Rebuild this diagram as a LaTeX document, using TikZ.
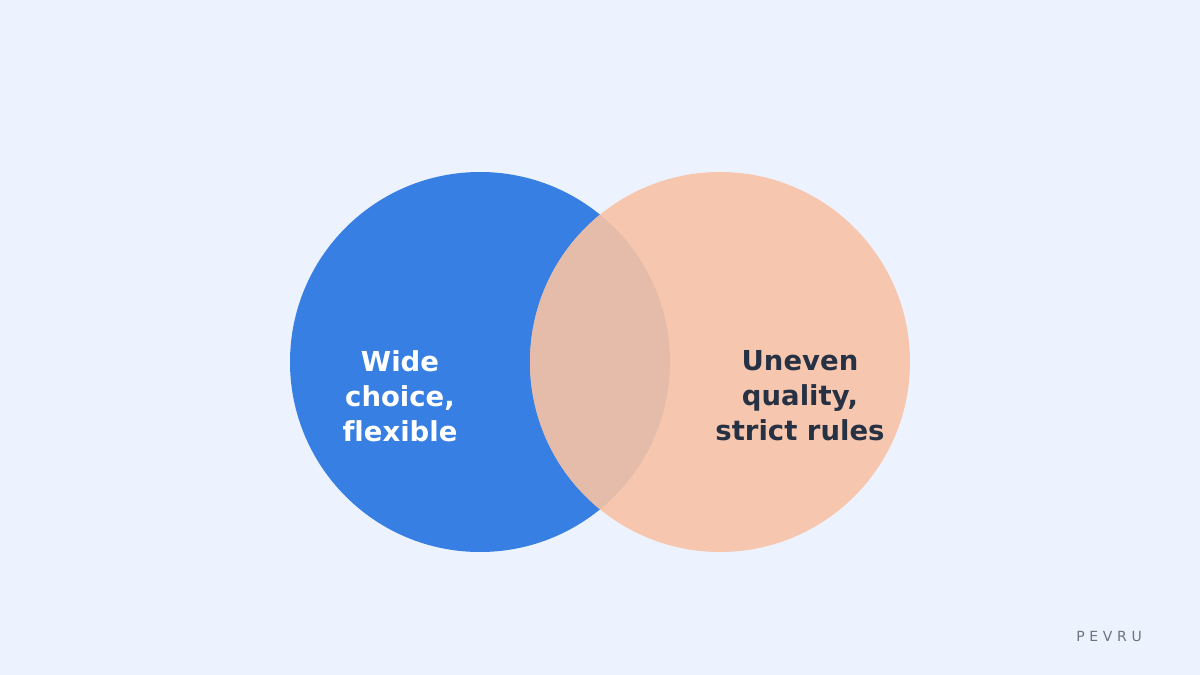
\documentclass[tikz,border=0pt]{standalone}
\usepackage{fontspec}
\setmainfont[Ligatures=NoCommon]{DejaVu Sans}
\definecolor{bg}{HTML}{EDF3FE}
\definecolor{cblue}{HTML}{377FE3}
\definecolor{cpeach}{HTML}{F6C7AE}
\definecolor{cmix}{HTML}{E4BCA9}
\definecolor{dark}{HTML}{263143}
\definecolor{gr}{HTML}{6B7280}
\begin{document}
\begin{tikzpicture}[x=1pt,y=-1pt,
  lbl/.style={align=center,font=\bfseries\fontsize{27.5}{35}\selectfont}]
\fill[bg] (0,0) rectangle (1200,675);
\useasboundingbox (0,0) rectangle (1200,675);
\fill[cblue] (480,362) circle (190);
\fill[cpeach] (720,362) circle (190);
\begin{scope}
\clip (480,362) circle (190);
\fill[cmix] (720,362) circle (190);
\end{scope}
\node[lbl,text=white] (l) at (400,396) {Wide\\choice,\\flexible};
\node[lbl,text=dark] (r) at (800,396) {Uneven\\quality,\\strict rules};
\node[text=gr,font=\fontsize{14}{16}\selectfont] (p) at (1109,636) {P\,\,E\,\,V\,\,R\,\,U};
\end{tikzpicture}
\end{document}
